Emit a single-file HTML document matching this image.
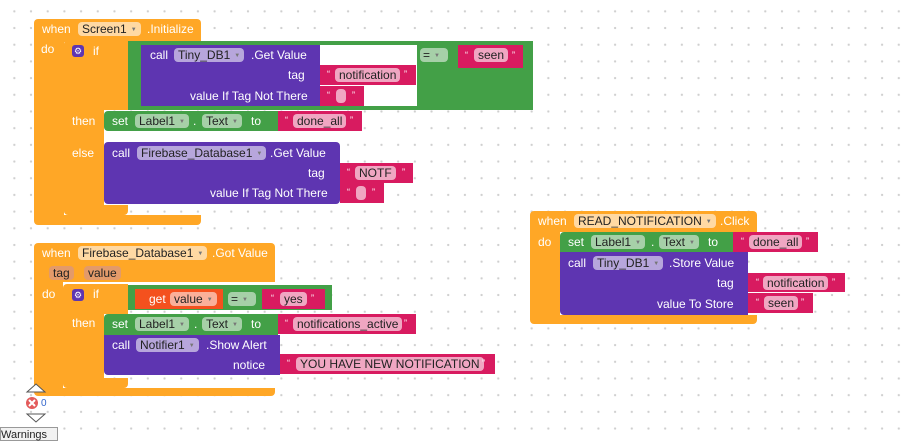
<!DOCTYPE html>
<html><head><meta charset="utf-8">
<style>
html,body{margin:0;padding:0}
body{width:905px;height:433px;position:relative;overflow:hidden;background:#fff;
background-image:radial-gradient(circle,#cfcfcf 1px,transparent 1.3px);background-size:16.7px 16.7px;background-position:6px 3px;
font-family:"Liberation Sans",sans-serif;font-size:12px}
.b{position:absolute}
.o{background:#ffa726}
.y{background:#ffa726}
.g{background:#43a047}
.p{background:#5e35b1}
.k{background:#d81b60}
.r{background:#f4511e}
.t{position:absolute;color:#fff;white-space:nowrap;line-height:14px}
.f{position:absolute;color:#222;white-space:nowrap;line-height:14px;border-radius:4px;padding:0 4px;height:14px}
.fo{background:#ffd9a3}
.fg{background:#a6d0a8}
.fp{background:#b7a6dc}
.fk{background:#f0a6c2}
.fr{background:#fab09a}
.dd{font-size:6px;color:#777;margin-left:4px;vertical-align:2px}
.w{background:#fff}
</style></head><body>

<!-- Block 1 -->
<div class="b o" style="left:34px;top:19px;width:167px;height:23px;border-radius:4px 4px 0 0"></div>
<div class="b o" style="left:34px;top:42px;width:30px;height:173px"></div>
<div class="b o" style="left:34px;top:215px;width:167px;height:10px;border-radius:0 0 4px 4px"></div>
<div class="t" style="left:42px;top:22px">when</div>
<div class="f fo" style="left:78px;top:22px">Screen1<span class="dd">▼</span></div>
<div class="t" style="left:147px;top:22px">.Initialize</div>
<div class="t" style="left:41px;top:42px">do</div>

<div class="b y" style="left:64px;top:40px;width:64px;height:70px;border-radius:4px 0 0 0"></div>
<div class="b y" style="left:64px;top:110px;width:40px;height:95px"></div>
<div class="b y" style="left:64px;top:205px;width:64px;height:10px;border-radius:0 0 4px 4px"></div>
<div class="b" style="left:72px;top:45px;width:12px;height:12px;background:#5e35b1;border-radius:3px;color:#fff;font-size:9px;line-height:12px;text-align:center">⚙</div>
<div class="t" style="left:93px;top:44px">if</div>
<div class="t" style="left:72px;top:114px">then</div>
<div class="t" style="left:72px;top:146px">else</div>

<div class="b g" style="left:128px;top:41px;width:405px;height:69px"></div>
<div class="b p" style="left:141px;top:45px;width:179px;height:61px"></div>
<div class="b w" style="left:320px;top:45px;width:97px;height:61px"></div>
<div class="t" style="left:150px;top:48px">call</div>
<div class="f fp" style="left:174px;top:48px">Tiny_DB1<span class="dd">▼</span></div>
<div class="t" style="left:251px;top:48px">.Get Value</div>
<div class="t" style="left:288px;top:68px">tag</div>
<div class="t" style="left:190px;top:89px">value If Tag Not There</div>
<div class="b k" style="left:320px;top:65px;width:96px;height:20px"></div>
<div class="t" style="left:327px;top:67px;font-size:9px">“</div>
<div class="f fk" style="left:335px;top:68px">notification</div>
<div class="t" style="left:404px;top:67px;font-size:9px">”</div>
<div class="b k" style="left:320px;top:86px;width:44px;height:20px"></div>
<div class="t" style="left:327px;top:88px;font-size:9px">“</div>
<div class="f fk" style="left:336px;top:89px;width:2px;padding:0 4px"></div>
<div class="t" style="left:352px;top:88px;font-size:9px">”</div>
<div class="f fg" style="left:420px;top:48px;padding:0 3px;width:22px">=<span class="dd">▼</span></div>
<div class="b k" style="left:458px;top:45px;width:65px;height:23px"></div>
<div class="t" style="left:465px;top:48px;font-size:9px">“</div>
<div class="f fk" style="left:474px;top:48px">seen</div>
<div class="t" style="left:512px;top:48px;font-size:9px">”</div>

<div class="b g" style="left:104px;top:111px;width:174px;height:20px;border-radius:4px 0 0 4px"></div>
<div class="t" style="left:112px;top:114px">set</div>
<div class="f fg" style="left:135px;top:114px">Label1<span class="dd">▼</span></div>
<div class="t" style="left:193px;top:114px">.</div>
<div class="f fg" style="left:202px;top:114px">Text<span class="dd">▼</span></div>
<div class="t" style="left:251px;top:114px">to</div>
<div class="b k" style="left:278px;top:111px;width:84px;height:20px"></div>
<div class="t" style="left:285px;top:113px;font-size:9px">“</div>
<div class="f fk" style="left:293px;top:114px">done_all</div>
<div class="t" style="left:350px;top:113px;font-size:9px">”</div>

<div class="b p" style="left:104px;top:142px;width:236px;height:62px;border-radius:4px"></div>
<div class="t" style="left:112px;top:146px">call</div>
<div class="f fp" style="left:137px;top:146px">Firebase_Database1<span class="dd">▼</span></div>
<div class="t" style="left:270px;top:146px">.Get Value</div>
<div class="t" style="left:308px;top:166px">tag</div>
<div class="t" style="left:210px;top:186px">value If Tag Not There</div>
<div class="b k" style="left:340px;top:163px;width:73px;height:20px"></div>
<div class="t" style="left:347px;top:165px;font-size:9px">“</div>
<div class="f fk" style="left:355px;top:166px">NOTF</div>
<div class="t" style="left:402px;top:165px;font-size:9px">”</div>
<div class="b k" style="left:340px;top:183px;width:44px;height:20px"></div>
<div class="t" style="left:347px;top:185px;font-size:9px">“</div>
<div class="f fk" style="left:356px;top:186px;width:2px"></div>
<div class="t" style="left:372px;top:185px;font-size:9px">”</div>

<!-- Block 2 -->
<div class="b o" style="left:34px;top:243px;width:241px;height:39px;border-radius:4px 4px 0 0"></div>
<div class="b o" style="left:34px;top:282px;width:29px;height:106px"></div>
<div class="b o" style="left:34px;top:388px;width:241px;height:8px;border-radius:0 0 4px 4px"></div>
<div class="t" style="left:42px;top:246px">when</div>
<div class="f fo" style="left:78px;top:246px">Firebase_Database1<span class="dd">▼</span></div>
<div class="t" style="left:212px;top:246px">.Got Value</div>
<div class="f" style="left:49px;top:266px;background:#e39a6a">tag</div>
<div class="f" style="left:84px;top:266px;background:#e39a6a">value</div>
<div class="t" style="left:42px;top:287px">do</div>

<div class="b y" style="left:63px;top:284px;width:65px;height:30px;border-radius:4px 0 0 0"></div>
<div class="b y" style="left:63px;top:314px;width:41px;height:64px"></div>
<div class="b y" style="left:63px;top:378px;width:65px;height:10px;border-radius:0 0 4px 4px"></div>
<div class="b" style="left:72px;top:289px;width:12px;height:12px;background:#5e35b1;border-radius:3px;color:#fff;font-size:9px;line-height:12px;text-align:center">⚙</div>
<div class="t" style="left:93px;top:287px">if</div>
<div class="t" style="left:72px;top:316px">then</div>

<div class="b g" style="left:128px;top:285px;width:204px;height:25px"></div>
<div class="b r" style="left:135px;top:289px;width:88px;height:20px"></div>
<div class="t" style="left:149px;top:292px">get</div>
<div class="f fr" style="left:170px;top:292px">value<span class="dd">▼</span></div>
<div class="f fg" style="left:228px;top:292px;padding:0 3px;width:22px">=<span class="dd">▼</span></div>
<div class="b k" style="left:262px;top:289px;width:63px;height:20px"></div>
<div class="t" style="left:271px;top:291px;font-size:9px">“</div>
<div class="f fk" style="left:280px;top:292px">yes</div>
<div class="t" style="left:311px;top:291px;font-size:9px">”</div>

<div class="b g" style="left:104px;top:314px;width:174px;height:21px;border-radius:4px 0 0 0"></div>
<div class="t" style="left:112px;top:317px">set</div>
<div class="f fg" style="left:135px;top:317px">Label1<span class="dd">▼</span></div>
<div class="t" style="left:194px;top:317px">.</div>
<div class="f fg" style="left:202px;top:317px">Text<span class="dd">▼</span></div>
<div class="t" style="left:251px;top:317px">to</div>
<div class="b k" style="left:278px;top:314px;width:138px;height:20px"></div>
<div class="t" style="left:285px;top:316px;font-size:9px">“</div>
<div class="f fk" style="left:293px;top:317px">notifications_active</div>
<div class="t" style="left:404px;top:316px;font-size:9px">”</div>

<div class="b p" style="left:104px;top:335px;width:176px;height:40px;border-radius:0 0 0 4px"></div>
<div class="t" style="left:112px;top:338px">call</div>
<div class="f fp" style="left:136px;top:338px">Notifier1<span class="dd">▼</span></div>
<div class="t" style="left:206px;top:338px">.Show Alert</div>
<div class="t" style="left:233px;top:358px">notice</div>
<div class="b k" style="left:280px;top:354px;width:215px;height:20px"></div>
<div class="t" style="left:287px;top:356px;font-size:9px">“</div>
<div class="f fk" style="left:296px;top:357px">YOU HAVE NEW NOTIFICATION</div>
<div class="t" style="left:482px;top:356px;font-size:9px">”</div>

<!-- Block 3 -->
<div class="b o" style="left:530px;top:211px;width:227px;height:21px;border-radius:4px 4px 0 0"></div>
<div class="b o" style="left:530px;top:232px;width:30px;height:83px"></div>
<div class="b o" style="left:530px;top:315px;width:227px;height:9px;border-radius:0 0 4px 4px"></div>
<div class="t" style="left:538px;top:214px">when</div>
<div class="f fo" style="left:574px;top:214px">READ_NOTIFICATION<span class="dd">▼</span></div>
<div class="t" style="left:720px;top:214px">.Click</div>
<div class="t" style="left:538px;top:235px">do</div>

<div class="b g" style="left:560px;top:232px;width:173px;height:20px;border-radius:4px 0 0 0"></div>
<div class="t" style="left:568px;top:235px">set</div>
<div class="f fg" style="left:591px;top:235px">Label1<span class="dd">▼</span></div>
<div class="t" style="left:651px;top:235px">.</div>
<div class="f fg" style="left:659px;top:235px">Text<span class="dd">▼</span></div>
<div class="t" style="left:708px;top:235px">to</div>
<div class="b k" style="left:733px;top:232px;width:85px;height:20px"></div>
<div class="t" style="left:741px;top:234px;font-size:9px">“</div>
<div class="f fk" style="left:749px;top:235px">done_all</div>
<div class="t" style="left:806px;top:234px;font-size:9px">”</div>

<div class="b p" style="left:560px;top:252px;width:188px;height:63px;border-radius:0 0 0 4px"></div>
<div class="t" style="left:568px;top:256px">call</div>
<div class="f fp" style="left:593px;top:256px">Tiny_DB1<span class="dd">▼</span></div>
<div class="t" style="left:669px;top:256px">.Store Value</div>
<div class="t" style="left:717px;top:276px">tag</div>
<div class="t" style="left:657px;top:297px">value To Store</div>
<div class="b k" style="left:748px;top:273px;width:97px;height:19px"></div>
<div class="t" style="left:756px;top:275px;font-size:9px">“</div>
<div class="f fk" style="left:763px;top:276px">notification</div>
<div class="t" style="left:832px;top:275px;font-size:9px">”</div>
<div class="b k" style="left:748px;top:293px;width:65px;height:20px"></div>
<div class="t" style="left:756px;top:295px;font-size:9px">“</div>
<div class="f fk" style="left:764px;top:296px">seen</div>
<div class="t" style="left:801px;top:295px;font-size:9px">”</div>

<!-- Warnings -->
<svg class="b" style="left:24px;top:382px" width="24" height="44">
<polygon points="3,10 12,2 21,10" fill="#fff" stroke="#555" stroke-width="1"/>
<polygon points="3,32 12,40 21,32" fill="#fff" stroke="#555" stroke-width="1"/>
<circle cx="8" cy="21" r="6" fill="#e35b5b"/>
<path d="M5,18 L11,24 M11,18 L5,24" stroke="#fff" stroke-width="2"/>
</svg>
<div class="b" style="left:41px;top:398px;font-size:10px;color:#3366cc">0</div>
<div class="b" style="left:0;top:427px;width:56px;height:12px;border:1px solid #999;background:#f2f2f2;font-size:11px;line-height:14px;color:#222">Warnings</div>
</body></html>
